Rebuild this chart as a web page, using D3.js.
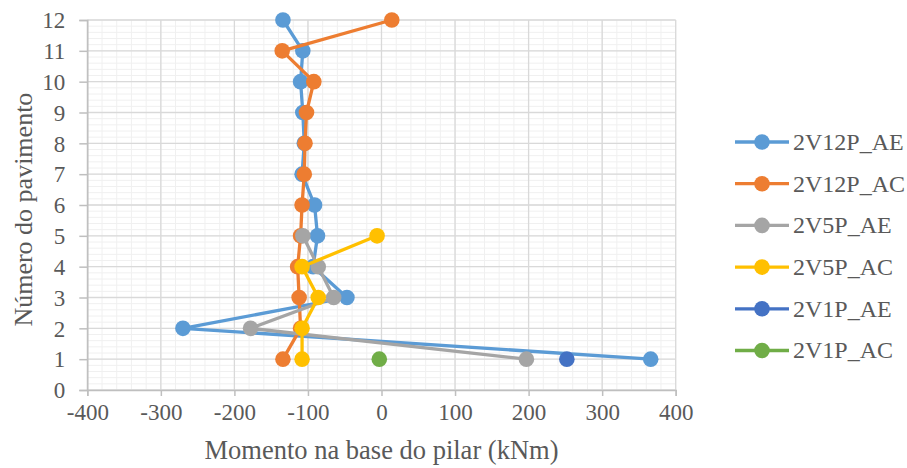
<!DOCTYPE html>
<html><head><meta charset="utf-8">
<script src="https://cdn.jsdelivr.net/npm/d3@7"></script>
</head><body style="margin:0">
<svg id="c" width="907" height="468" font-family="Liberation Serif"></svg>
<script>
const floors = [1,2,3,4,5,6,7,8,9,10,11,12];
const s2V12P_AE = [366,-270,-47,-93,-87,-91,-108,-105,-107,-110,-107,-134];
const s2V12P_AC = [-134,-110,-112,-114,-110,-108,-105,-104,-102,-92,-135,14];
const s2V5P_AE = [197,-178,-65,-86,-107];
const s2V5P_AC = [-108,-108,-86,-108,-6];
const s2V1P_AE = [252];
const s2V1P_AC = [-3];
const seriesNames = ["2V12P_AE","2V12P_AC","2V5P_AE","2V5P_AC","2V1P_AE","2V1P_AC"];
const seriesColors = ["#5B9BD5","#ED7D31","#A5A5A5","#FFC000","#4472C4","#70AD47"];
const xTicks = [-400,-300,-200,-100,0,100,200,300,400];
const yTicks = [0,1,2,3,4,5,6,7,8,9,10,11,12];

const seriesValues = [s2V12P_AE,s2V12P_AC,s2V5P_AE,s2V5P_AC,s2V1P_AE,s2V1P_AC];
const series = seriesNames.map((n,i)=>({name:n,color:seriesColors[i],
  pts:seriesValues[i].map((v,j)=>({x:v,y:floors[j]}))}));

const svg = d3.select("#c");
const font = "Liberation Serif";
const txt = "#595959";
const x = d3.scaleLinear().domain([-400,400]).range([87.3,675.7]);
const y = d3.scaleLinear().domain([0,12]).range([390,20]);

// minor gridlines
const g = svg.append("g");
g.selectAll(".mx").data(d3.range(-400,401,20)).enter().append("line")
  .attr("x1",d=>x(d)).attr("x2",d=>x(d)).attr("y1",y(0)).attr("y2",y(12))
  .attr("stroke","#f0f0f0").attr("stroke-width",1);
g.selectAll(".my").data(d3.range(0,60.5,1).map(d=>d/5)).enter().append("line")
  .attr("y1",d=>y(d)).attr("y2",d=>y(d)).attr("x1",x(-400)).attr("x2",x(400))
  .attr("stroke","#f0f0f0").attr("stroke-width",1);
// major gridlines
g.selectAll(".Mx").data(xTicks).enter().append("line")
  .attr("x1",d=>x(d)).attr("x2",d=>x(d)).attr("y1",y(0)).attr("y2",y(12))
  .attr("stroke","#d9d9d9").attr("stroke-width",1.3);
g.selectAll(".My").data(yTicks).enter().append("line")
  .attr("y1",d=>y(d)).attr("y2",d=>y(d)).attr("x1",x(-400)).attr("x2",x(400))
  .attr("stroke","#d9d9d9").attr("stroke-width",1.3);

// axes
const xAxis = d3.axisBottom(x).tickValues(xTicks).tickSize(6).tickPadding(10).tickFormat(d=>String(d));
const yAxis = d3.axisLeft(y).tickValues(yTicks).tickSize(8).tickPadding(14).tickFormat(d=>String(d));
const xa = svg.append("g").attr("transform",`translate(0,${y(0)})`).call(xAxis);
const ya = svg.append("g").attr("transform",`translate(${x(-400)},0)`).call(yAxis);
[xa,ya].forEach(a=>{
  a.attr("font-family",font).attr("font-size",23);
  a.select(".domain").attr("stroke","#bfbfbf").attr("stroke-width",1.5);
  a.selectAll(".tick line").attr("stroke","#bfbfbf").attr("stroke-width",1.5);
  a.selectAll("text").attr("font-family",font).attr("font-size",23).attr("fill",txt);
});
xa.selectAll("text").attr("y",30).attr("dy","0");
ya.selectAll("text").attr("dy","0.34em");

// axis titles
svg.append("text").attr("x",x(0)).attr("y",459).attr("text-anchor","middle")
  .attr("font-family",font).attr("font-size",26.5).attr("fill",txt)
  .text("Momento na base do pilar (kNm)");
svg.append("text").attr("transform",`translate(32,${y(5.85)}) rotate(-90)`).attr("text-anchor","middle")
  .attr("font-family",font).attr("font-size",26).attr("fill",txt)
  .text("Número do pavimento");

// series
const line = d3.line().x(d=>x(d.x)).y(d=>y(d.y));
series.forEach(s=>{
  const sg = svg.append("g");
  sg.append("path").attr("d",line(s.pts)).attr("fill","none")
    .attr("stroke",s.color).attr("stroke-width",3.3).attr("stroke-linejoin","round");
  sg.selectAll("circle").data(s.pts).enter().append("circle")
    .attr("cx",d=>x(d.x)).attr("cy",d=>y(d.y)).attr("r",7.8).attr("fill",s.color);
});

// legend
const lg = svg.append("g");
series.forEach((s,i)=>{
  const yy = 142 + i*41.7;
  lg.append("line").attr("x1",735).attr("x2",789).attr("y1",yy).attr("y2",yy)
    .attr("stroke",s.color).attr("stroke-width",3.3);
  lg.append("circle").attr("cx",762).attr("cy",yy).attr("r",7.8).attr("fill",s.color);
  lg.append("text").attr("x",793).attr("y",yy).attr("dy","0.33em")
    .attr("font-family",font).attr("font-size",24).attr("fill",txt).text(s.name);
});
</script>
</body></html>
